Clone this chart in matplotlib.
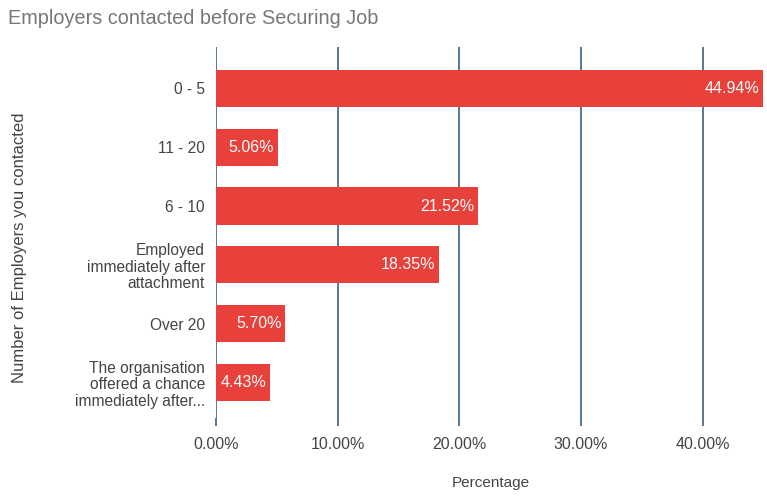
import matplotlib.pyplot as plt
from matplotlib.ticker import FuncFormatter

plt.rcParams['font.family'] = ['Liberation Sans', 'DejaVu Sans']

categories = ['0 - 5', '11 - 20', '6 - 10',
              'Employed\nimmediately after\nattachment',
              'Over 20',
              'The organisation\noffered a chance\nimmediately after...']
values = [44.94, 5.06, 21.52, 18.35, 5.70, 4.43]
ticks = [0, 10, 20, 30, 40]

bar_color = '#e8403a'
grid_color = '#5a7894'
text_color = '#444444'

fig = plt.figure(figsize=(7.67, 4.97), dpi=100)
# axes box in pixel terms: x 216..767, y 47..418
ax = fig.add_axes([216 / 767, 1 - 418 / 497, 551 / 767, 371 / 497])

pos = list(range(len(categories)))
ax.barh(pos, values, height=0.63, color=bar_color, zorder=3)

for p, v in zip(pos, values):
    ax.text(v - 0.3, p, f'{v:.2f}%', ha='right', va='center',
            color='white', fontsize=11.5, zorder=4)

ax.set_ylim(len(categories) - 0.4, -0.7)
ax.set_xlim(0, 45.3)
ax.set_xticks(ticks)
ax.xaxis.set_major_formatter(FuncFormatter(lambda x, _: f'{x:.2f}%'))
ax.set_yticks(pos)
ax.set_yticklabels(categories, fontsize=11.2, color=text_color, linespacing=1.12)
ax.tick_params(axis='y', length=0, pad=8)
ax.tick_params(axis='x', length=6, width=1.4, color=grid_color, labelsize=11.5,
               labelcolor=text_color, pad=8)

ax.grid(axis='x', color=grid_color, linewidth=1.4, zorder=0)
for s in ax.spines.values():
    s.set_visible(False)

fig.text(491 / 767, 1 - 483 / 497, 'Percentage', ha='center', va='center',
         fontsize=11, color=text_color)
fig.text(20 / 767, 1 - 248 / 497, 'Number of Employers you contacted', rotation=90,
         ha='center', va='center', fontsize=12, color=text_color)
fig.text(8 / 767, 1 - 18 / 497, 'Employers contacted before Securing Job',
         ha='left', va='center', fontsize=14.3, color='#777777')

fig.savefig('out.png', dpi=100)
